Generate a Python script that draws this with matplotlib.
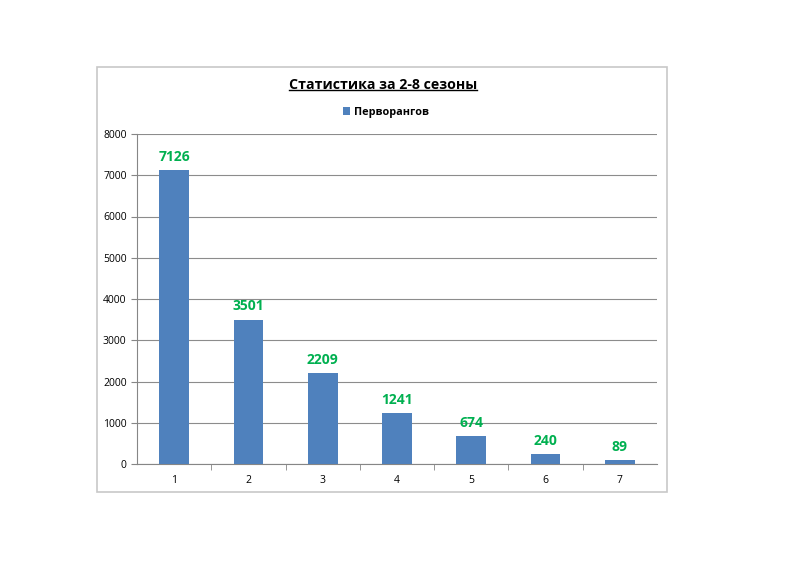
import matplotlib.pyplot as plt
from matplotlib.patches import Rectangle
from matplotlib.lines import Line2D

# ---- data ----
categories = ["1", "2", "3", "4", "5", "6", "7"]
values = [7126, 3501, 2209, 1241, 674, 240, 89]
series_name = "Перворангов"
title = "Статистика за 2-8 сезоны"

plt.rcParams['font.family'] = ['Open Sans', 'DejaVu Sans']

fig = plt.figure(figsize=(8, 5.65), dpi=100)
W, H = 800, 565

# outer chart border
fig.patches.append(Rectangle((97 / W, 1 - 492 / H), 570 / W, 425 / H,
                             transform=fig.transFigure, fill=False,
                             edgecolor="#c8c8c8", linewidth=1.2))

ax = fig.add_axes([137 / W, 1 - 464 / H, 520 / W, 330 / H])
x = list(range(len(categories)))
bars = ax.bar(x, values, width=0.4, color="#4f81bd", label=series_name, zorder=3)

for xi, v in zip(x, values):
    ax.text(xi, v + 150, str(v), ha="center", va="bottom", color="#00b050",
            fontsize=10, fontweight="bold")

ax.set_xlim(-0.5, len(categories) - 0.5)
ax.set_ylim(0, 8000)
ax.set_yticks(range(0, 8001, 1000))
ax.set_xticks(x)
ax.set_xticklabels(categories)
ax.set_xticks([i + 0.5 for i in x[:-1]], minor=True)
ax.tick_params(axis="x", which="major", length=0, labelsize=7.5, pad=8)
ax.tick_params(axis="x", which="minor", length=4, color="#868686", direction="out")
ax.tick_params(axis="y", length=4, color="#868686", labelsize=7.5, direction="out")
ax.grid(axis="y", color="#8c8c8c", linewidth=0.8, zorder=0)
for side in ["top", "right"]:
    ax.spines[side].set_visible(False)
for side in ["left", "bottom"]:
    ax.spines[side].set_color("#868686")

# title with underline
t = fig.text(383 / W, 1 - 85 / H, title, ha="center", va="center",
             fontsize=10.2, fontweight="bold")
fig.canvas.draw()
bb = t.get_window_extent().transformed(fig.transFigure.inverted())
fig.lines.append(Line2D([bb.x0, bb.x1], [bb.y0 + 0.003, bb.y0 + 0.003],
                        transform=fig.transFigure, color="black", linewidth=1.0))

fig.legend(handles=[bars], labels=[series_name], loc="center",
           bbox_to_anchor=(386 / W, 1 - 112 / H), frameon=False,
           prop={"size": 7.8, "weight": "bold"}, handlelength=0.7,
           handleheight=0.7, handletextpad=0.4)

fig.savefig("out.png", dpi=100)
